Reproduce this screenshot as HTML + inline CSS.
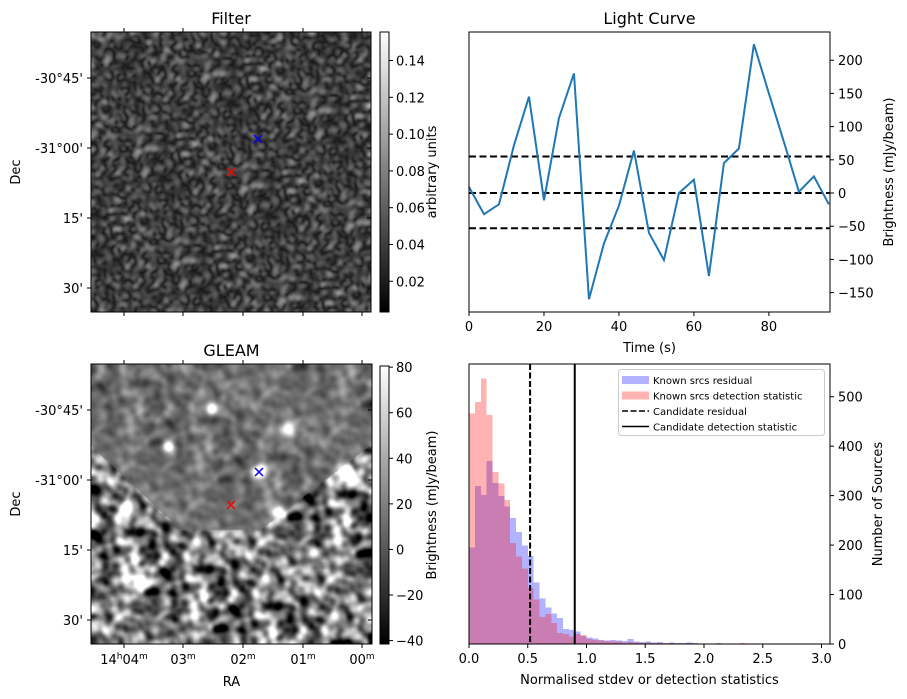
<!DOCTYPE html>
<html><head><meta charset="utf-8">
<style>
body{margin:0;background:#fff;width:907px;height:699px;overflow:hidden;position:relative;font-family:"DejaVu Sans","Liberation Sans",sans-serif;}
canvas{position:absolute;}
svg{position:absolute;left:0;top:0;}
text{font-family:"DejaVu Sans","Liberation Sans",sans-serif;fill:#000;}
</style></head>
<body>
<canvas id="filterImg" width="280" height="280" style="left:91px;top:32px"></canvas>
<canvas id="gleamImg" width="281" height="280" style="left:91px;top:364px"></canvas>
<svg id="svg" width="907" height="699">
<defs>
<linearGradient id="gray" x1="0" y1="1" x2="0" y2="0"><stop offset="0" stop-color="#000"/><stop offset="1" stop-color="#fff"/></linearGradient>
</defs>
</svg>
<script>
// ---------- data ----------
const lcTimes = [0,4,8,12,16,20,24,28,32,36,40,44,48,52,56,60,64,68,72,76,80,84,88,92,96];
const lcValues = [9,-32,-17,72,145,-11,113,180,-160,-76,-19,64,-60,-101,0,20,-125,45,67,224,150,77,2,25,-17];
const lcHLines = [55,0,-53];
const lcYTicks = [200,150,100,50,0,-50,-100,-150];
const lcXTicks = [0,20,40,60,80];
const histBinWidth = 0.05;
const histRed = [466,489,537,463,348,325,291,204,177,153,113,90,55,61,42,22,20,15,20,18,10,8,7,6,5,5,3,4,3,2,3,2,2,1,2,1,1,2,1,1,0,1,1,0,1,0,2,1,0,1,0,0,1,0,0,1,0,0,1,0];
const histBlue = [195,319,301,370,326,299,278,255,226,199,178,124,92,74,62,53,30,28,25,16,13,11,8,7,8,7,6,10,5,4,5,3,4,2,3,2,2,3,2,1,1,1,2,1,1,0,1,1,1,0,0,1,0,1,0,0,1,0,0,0];
const candResidual = 0.52;
const candDetection = 0.9;
const histXTicks = ["0.0","0.5","1.0","1.5","2.0","2.5","3.0"];
const histYTicks = [0,100,200,300,400,500];
const filterCbTicks = ["0.02","0.04","0.06","0.08","0.10","0.12","0.14"];
const gleamCbTicks = [-40,-20,0,20,40,60,80];

const NS="http://www.w3.org/2000/svg";
const svg=document.getElementById('svg');
function el(tag,attrs,parent,txt){const e=document.createElementNS(NS,tag);for(const k in attrs)e.setAttribute(k,attrs[k]);if(txt!==undefined)e.textContent=txt;(parent||svg).appendChild(e);return e;}
function grp(name){const g=el('g',{});return g;}

// ---------- images (texture: blurred random field) ----------
let seed=12345;function rnd(){seed=(seed*1103515245+12345)&0x7fffffff;return seed/0x7fffffff;}
function field(w,h,r,passes){let a=new Float32Array(w*h);for(let i=0;i<w*h;i++)a[i]=rnd()-0.5;
 for(let p=0;p<passes;p++){const b=new Float32Array(w*h);
  for(let y=0;y<h;y++){for(let x=0;x<w;x++){let s=0,n=0;for(let k=-r;k<=r;k++){const xx=x+k;if(xx>=0&&xx<w){s+=a[y*w+xx];n++;}}b[y*w+x]=s/n;}}
  const c=new Float32Array(w*h);
  for(let y=0;y<h;y++){for(let x=0;x<w;x++){let s=0,n=0;for(let k=-r;k<=r;k++){const yy=y+k;if(yy>=0&&yy<h){s+=b[yy*w+x];n++;}}c[y*w+x]=s/n;}}
  a=c;}
 let m=0,v=0;for(let i=0;i<w*h;i++)m+=a[i];m/=w*h;for(let i=0;i<w*h;i++)v+=(a[i]-m)**2;v=Math.sqrt(v/(w*h));
 for(let i=0;i<w*h;i++)a[i]=(a[i]-m)/v;return a;}
(function(){const c=document.getElementById('filterImg').getContext('2d');const w=280,h=280;const n1=field(w,h,2,3);const n2=field(w,h,2,3);const im=c.createImageData(w,h);
 for(let i=0;i<w*h;i++){let v=Math.sqrt(n1[i]*n1[i]+n2[i]*n2[i]);let g=22+v*34;g=Math.max(0,Math.min(255,g));im.data[i*4]=im.data[i*4+1]=im.data[i*4+2]=g;im.data[i*4+3]=255;}
 c.putImageData(im,0,0);})();
(function(){const c=document.getElementById('gleamImg').getContext('2d');const w=281,h=280;const n1=field(w,h,3,3),n2=field(w,h,2,3);const im=c.createImageData(w,h);
 function inner(x,y){if(y<81)return true;if(y>167)return false;
  if(x<90){return y< 82+(x/90)*84;} if(x<167) return y<166; return y< 167-((x-167)/112)*86;}
 const srcs=[[120,44,5,1],[77,82,5,1],[196,65,6,1],[168,108,6,1.3],[257,110,8,1.4],[34,147,6,1],[187,148,6,1],[50,216,8,1.3],[222,190,5,0.8]];
 for(let y=0;y<h;y++)for(let x=0;x<w;x++){const i=y*w+x;let v=n1[i]*0.7+n2[i]*0.5;let g;
  if(inner(x,y)) g=112+v*24; else g=122+v*72;
  for(const s of srcs){const dx=x-s[0],dy=y-s[1];g+=220*s[3]*Math.exp(-(dx*dx+dy*dy)/(2*s[2]*s[2]*0.6));}
  g=Math.max(0,Math.min(255,g));im.data[i*4]=im.data[i*4+1]=im.data[i*4+2]=g;im.data[i*4+3]=255;}
 c.putImageData(im,0,0);})();

// ---------- image axes ----------
function imageAxes(x0,y0,w,h,title,name,showRA){const g=grp(name+'-axes');
 el('rect',{x:x0,y:y0,width:w,height:h,fill:'none',stroke:'#000','stroke-width':1},g);
 el('text',{x:x0+w/2,y:y0-8,'text-anchor':'middle','font-size':16},g,title);
 const decY=[46,116,186,256],decL=["-30°45'","-31°00'","15'","30'"];
 decY.forEach((d,i)=>{el('line',{x1:x0,y1:y0+d,x2:x0-4,y2:y0+d,stroke:'#000'},g);el('line',{x1:x0+w,y1:y0+d,x2:x0+w-4,y2:y0+d,stroke:'#000'},g);
  const t=el('text',{x:x0-8,y:y0+d+5,'text-anchor':'end','font-size':13},g,decL[i]);});
 const raX=[33,92,152,212,271];
 raX.forEach(d=>{el('line',{x1:x0+d,y1:y0+h,x2:x0+d,y2:y0+h+4,stroke:'#000'},g);el('line',{x1:x0+d,y1:y0,x2:x0+d,y2:y0-4,stroke:'#000'},g);});
 el('text',{x:20,y:y0+h/2,'text-anchor':'middle','font-size':13,transform:`rotate(-90 20 ${y0+h/2})`},g,'Dec');
 if(showRA){const labs=[["14","h","04","m"],["","","03","m"],["","","02","m"],["","","01","m"],["","","00","m"]];
  raX.forEach((d,i)=>{const t=el('text',{x:x0+d,y:y0+h+20,'text-anchor':'middle','font-size':13},g);const L=labs[i];
   if(L[0]){el('tspan',{},t,L[0]);el('tspan',{'font-size':9,dy:-5},t,L[1]);el('tspan',{dy:5},t,L[2]);}else el('tspan',{},t,L[2]);
   el('tspan',{'font-size':9,dy:-5},t,L[3]);});
  el('text',{x:x0+w/2,y:y0+h+42,'text-anchor':'middle','font-size':13},g,'RA');}
 return g;}
imageAxes(91,32,280,280,'Filter','filter',false);
imageAxes(91,364,281,280,'GLEAM','gleam',true);
function cross(x,y,col,name){const g=grp(name);el('path',{d:`M${x-4} ${y-4}L${x+4} ${y+4}M${x-4} ${y+4}L${x+4} ${y-4}`,stroke:col,'stroke-width':1.5},g);}
cross(258,139,'#00f','filter-candidate-blue');cross(231,172,'#f00','filter-candidate-red');
cross(259,472,'#00f','gleam-candidate-blue');cross(231,505,'#f00','gleam-candidate-red');

// ---------- colorbars ----------
function colorbar(x,y0,y1,vmin,vmax,ticks,label,name){const g=grp(name);
 el('rect',{x:x,y:y0,width:9,height:y1-y0,fill:'url(#gray)',stroke:'#000'},g);
 const sc=v=>y1-(v-vmin)/(vmax-vmin)*(y1-y0);
 ticks.forEach(t=>{const v=parseFloat(t);const yy=sc(v);el('line',{x1:x+9,y1:yy,x2:x+13,y2:yy,stroke:'#000'},g);
  el('text',{x:x+16,y:yy+5,'font-size':13},g,String(t).replace('-','\u2212'));});
 const lx=x+56,ly=(y0+y1)/2;el('text',{x:lx,y:ly,'text-anchor':'middle','font-size':13,transform:`rotate(-90 ${lx} ${ly})`},g,label);}
colorbar(380,32,312,0.0033,0.1555,filterCbTicks,'arbitrary units','filter-colorbar');
colorbar(380,366,644,-41.5,80.5,gleamCbTicks,'Brightness (mJy/beam)','gleam-colorbar');

// ---------- light curve ----------
(function(){const x0=469,x1=830,y0=32,y1=312;const g=grp('light-curve');
 const X=t=>x0+(t-0)/96.3*(x1-x0);const Y=v=>193-v*0.664;
 el('text',{x:(x0+x1)/2,y:y0-8,'text-anchor':'middle','font-size':16},g,'Light Curve');
 lcHLines.forEach(v=>{const l=el('line',{x1:x0,y1:Y(v),x2:x1,y2:Y(v),stroke:'#000','stroke-width':2,'stroke-dasharray':'7,3.5'},g);});
 const p=el('polyline',{points:lcTimes.map((t,i)=>X(t)+','+Y(lcValues[i])).join(' '),fill:'none',stroke:'#1f77b4','stroke-width':2},g);
 
 el('rect',{x:x0,y:y0,width:x1-x0,height:y1-y0,fill:'none',stroke:'#000'},g);
 lcXTicks.forEach(t=>{el('line',{x1:X(t),y1:y1,x2:X(t),y2:y1+4,stroke:'#000'},g);el('text',{x:X(t),y:y1+19,'text-anchor':'middle','font-size':13},g,t);});
 lcYTicks.forEach(v=>{el('line',{x1:x1,y1:Y(v),x2:x1+4,y2:Y(v),stroke:'#000'},g);el('text',{x:x1+8,y:Y(v)+5,'font-size':13},g,String(v).replace('-','\u2212'));});
 el('text',{x:(x0+x1)/2,y:352,'text-anchor':'middle','font-size':13},g,'Time (s)');
 el('text',{x:893,y:172,'text-anchor':'middle','font-size':13,transform:'rotate(-90 893 172)'},g,'Brightness (mJy/beam)');
})();

// ---------- histogram ----------
(function(){const x0=469,x1=830,y0=364,y1=644;const g=grp('histogram');
 const X=v=>x0+v*117.5;const Y=n=>y1-n*0.4946;
 histBlue.forEach((n,i)=>{if(!n)return;const r=el('rect',{x:X(i*histBinWidth),y:Y(n),width:X(histBinWidth)-x0,height:y1-Y(n),fill:'rgba(0,0,255,0.3)','shape-rendering':'crispEdges'},g);});
 histRed.forEach((n,i)=>{if(!n)return;const r=el('rect',{x:X(i*histBinWidth),y:Y(n),width:X(histBinWidth)-x0,height:y1-Y(n),fill:'rgba(255,0,0,0.3)','shape-rendering':'crispEdges'},g);});
 el('line',{x1:X(candResidual),y1:y0,x2:X(candResidual),y2:y1,stroke:'#000','stroke-width':2,'stroke-dasharray':'6,2.5'},g);
 el('line',{x1:X(candDetection),y1:y0,x2:X(candDetection),y2:y1,stroke:'#000','stroke-width':2},g);
 el('rect',{x:x0,y:y0,width:x1-x0,height:y1-y0,fill:'none',stroke:'#000'},g);
 histXTicks.forEach(t=>{const xx=X(parseFloat(t));el('line',{x1:xx,y1:y1,x2:xx,y2:y1+4,stroke:'#000'},g);el('text',{x:xx,y:y1+19,'text-anchor':'middle','font-size':13},g,t);});
 histYTicks.forEach(v=>{el('line',{x1:x1,y1:Y(v),x2:x1+4,y2:Y(v),stroke:'#000'},g);el('text',{x:x1+8,y:Y(v)+5,'font-size':13},g,v);});
 el('text',{x:(x0+x1)/2,y:684,'text-anchor':'middle','font-size':13},g,'Normalised stdev or detection statistics');
 el('text',{x:882,y:504,'text-anchor':'middle','font-size':13,transform:'rotate(-90 882 504)'},g,'Number of Sources');
 const lg=grp('legend');
 el('rect',{x:618.5,y:369.5,width:206,height:66,rx:3,fill:'#fff','fill-opacity':0.8,stroke:'#ccc'},lg);
 const items=[['Known srcs residual','rect','rgba(0,0,255,0.3)'],['Known srcs detection statistic','rect','rgba(255,0,0,0.3)'],['Candidate residual','dash'],['Candidate detection statistic','line']];
 items.forEach((it,i)=>{const yy=380+i*15.5;
  if(it[1]==='rect')el('rect',{x:622,y:yy-4,width:27,height:8,fill:it[2]},lg);
  else el('line',{x1:622,y1:yy,x2:649,y2:yy,stroke:'#000','stroke-width':1.6,'stroke-dasharray':it[1]==='dash'?'6,2.5':'none'},lg);
  el('text',{x:653,y:yy+4,'font-size':10},lg,it[0]);});
})();
</script>
</body></html>
